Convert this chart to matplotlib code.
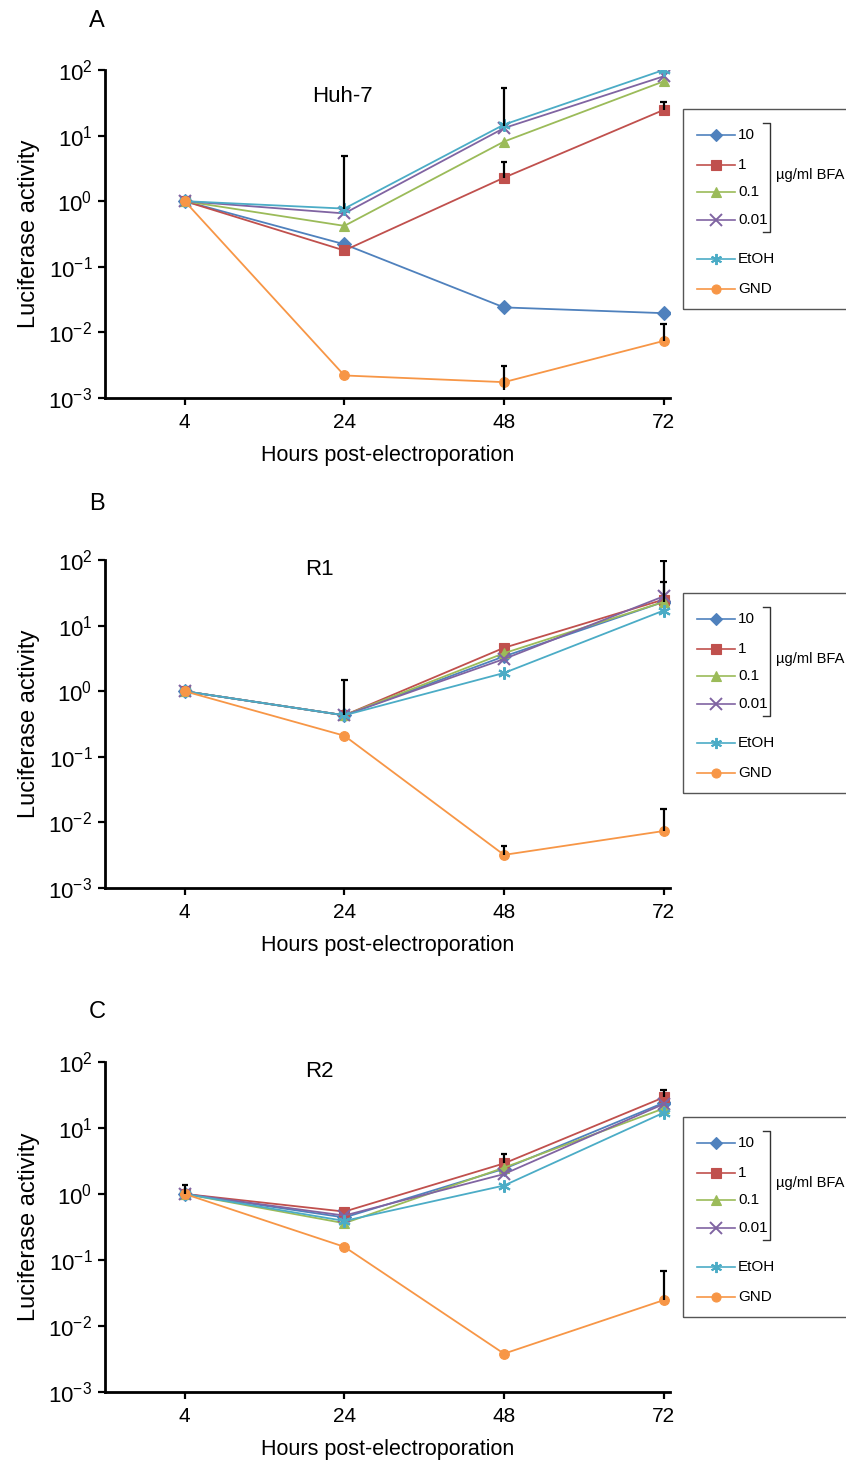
import matplotlib
matplotlib.use("Agg")
import matplotlib.pyplot as plt
from matplotlib.lines import Line2D
from matplotlib.patches import Rectangle

plt.rcParams['font.family'] = ['Liberation Sans', 'DejaVu Sans']

hours = ["4", "24", "48", "72"]
series = ["10", "1", "0.1", "0.01", "EtOH", "GND"]
colors = ["#4F81BD", "#C0504D", "#9BBB59", "#8064A2", "#4BACC6", "#F79646"]
markers = ["D", "s", "^", "x", (6, 2, 0), "o"]

# luciferase activity per panel, one list per series (same order as `series`)
huh7 = [
    [1, 0.22, 0.024, 0.0196],
    [1, 0.177, 2.28, 24.6],
    [1, 0.42, 8.1, 67],
    [1, 0.65, 13, 80],
    [1, 0.77, 14.7, 100],
    [1, 0.0022, 0.00174, 0.0074],
]
r1 = [
    [1, 0.43, 3.4, 23],
    [1, 0.43, 4.6, 25],
    [1, 0.43, 3.8, 23],
    [1, 0.43, 3.1, 28],
    [1, 0.43, 1.9, 17],
    [1, 0.21, 0.0032, 0.0074],
]
r2 = [
    [1, 0.44, 2.4, 24],
    [1, 0.54, 2.9, 29],
    [1, 0.36, 2.5, 19.7],
    [1, 0.47, 2.0, 23],
    [1, 0.39, 1.34, 17],
    [1, 0.158, 0.0038, 0.0246],
]

# upper error bars: (hour index, value, top)
huh7_err = [(1, 0.77, 4.9), (2, 14, 54), (2, 2.28, 3.9), (3, 24.6, 32.6),
            (2, 0.0013, 0.0031), (3, 0.0074, 0.0133)]
r1_err = [(1, 0.43, 1.5), (3, 23, 98), (3, 28, 46), (2, 0.0032, 0.0043),
          (3, 0.0074, 0.016)]
r2_err = [(0, 1, 1.37), (2, 2.9, 4.0), (3, 29, 37), (3, 0.0246, 0.068)]

# letter, cell line, data, errors, axes bottom, axes height, name x/y, legend top px, letter y px
panels = [
    ("A", "Huh-7", huh7, huh7_err, 0.7293, 0.2231, 0.42, 0.92, 109, 21),
    ("B", "R1", r1, r1_err, 0.3959, 0.2231, 0.38, 0.97, 593, 504),
    ("C", "R2", r2, r2_err, 0.0531, 0.2245, 0.38, 0.97, 1117, 1012),
]

fig = plt.figure(figsize=(8.46, 14.7), dpi=100)
W, H = 846.0, 1470.0


def is_cross(m):
    return m == "x" or isinstance(m, tuple)


for letter, name, data, errs, bottom, height, tx, ty, box_top, let_y in panels:
    ax = fig.add_axes([0.124, bottom, 0.668, height])
    x = range(len(hours))
    for vals, c, m in zip(data, colors, markers):
        ms = 9 if is_cross(m) else 7
        ax.plot(x, vals, color=c, marker=m, markersize=ms, linewidth=1.3,
                markeredgewidth=1.5 if is_cross(m) else 0.8, markeredgecolor=c)
    for i, v, top in errs:
        ax.vlines(i, v, top, color="black", linewidth=1.6, zorder=5)
        ax.hlines(top, i - 0.02, i + 0.02, color="black", linewidth=1.6, zorder=5)

    ax.set_yscale("log")
    ax.set_ylim(1e-3, 1e2)
    ax.set_xlim(-0.5, 3.04)
    ax.set_xticks(list(x))
    ax.set_xticklabels(hours)
    ax.minorticks_off()
    ax.set_yticks([1e-3, 1e-2, 1e-1, 1, 10, 100])
    for s in ("top", "right"):
        ax.spines[s].set_visible(False)
    for s in ("left", "bottom"):
        ax.spines[s].set_linewidth(2)
    ax.tick_params(axis="both", width=1.6, length=5, pad=6)
    ax.tick_params(axis="x", labelsize=15)
    ax.tick_params(axis="y", labelsize=16, pad=4)
    ax.set_xlabel("Hours post-electroporation", fontsize=15.5, labelpad=9)
    ax.set_ylabel("Luciferase activity", fontsize=17, labelpad=6)
    ax.text(tx, ty, name, transform=ax.transAxes, fontsize=16, ha="center", va="center")

    fig.text(97 / W, 1 - let_y / H, letter, fontsize=17, ha="center", va="center")

    # legend box, clipped by right edge
    fig.patches.append(Rectangle((683 / W, 1 - (box_top + 200) / H), 180 / W, 200 / H,
                                 transform=fig.transFigure, fill=False,
                                 edgecolor="#555555", linewidth=1))
    offsets = [26, 56, 83, 111, 150, 180]
    for k, (lab, c, m) in enumerate(zip(series, colors, markers)):
        yy = 1 - (box_top + offsets[k]) / H
        ms = 8 if is_cross(m) else 6.5
        fig.lines.append(Line2D([697 / W, 735 / W], [yy, yy], transform=fig.transFigure,
                                color=c, linewidth=1.2))
        fig.lines.append(Line2D([716 / W], [yy], transform=fig.transFigure, color=c,
                                marker=m, markersize=ms, markeredgecolor=c,
                                markeredgewidth=1.4 if is_cross(m) else 0.8))
        fig.text(738 / W, yy, lab, fontsize=11, ha="left", va="center")
    # bracket for BFA doses
    bx = 770 / W
    y1 = 1 - (box_top + 14) / H
    y2 = 1 - (box_top + offsets[3] + 12) / H
    fig.lines.append(Line2D([bx - 7 / W, bx, bx, bx - 7 / W], [y1, y1, y2, y2],
                            transform=fig.transFigure, color="#333333", linewidth=1))
    fig.text(776 / W, (y1 + y2) / 2 + 0.002, "µg/ml BFA", fontsize=10.5,
             ha="left", va="center")

fig.savefig("out.png", dpi=100)
